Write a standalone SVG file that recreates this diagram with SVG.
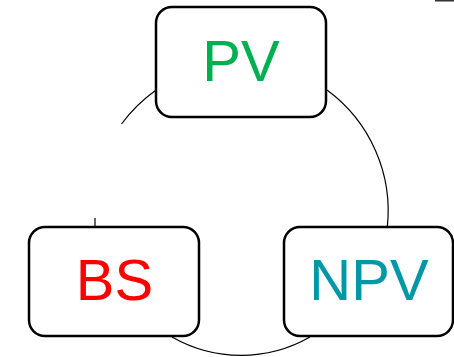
<svg xmlns="http://www.w3.org/2000/svg" width="454" height="357" viewBox="0 0 454 357">
<style>
.box{fill:#fff;stroke:#000;stroke-width:2.5}
.lbl{font-family:"Liberation Sans",Arial,sans-serif;font-size:58px;text-anchor:middle}
.con{fill:none;stroke:#000;stroke-width:1.2}
</style>
<rect width="454" height="357" fill="#fff"/>
<rect x="435" y="0" width="19" height="1.5" fill="#333"/>
<g id="connectors">
<path class="con" d="M327,90 A150,150 0 0 1 387.3,227"/>
<path class="con" d="M172,337 A139,139 0 0 0 310,337"/>
<path class="con" d="M155.5,90.5 A150,150 0 0 0 121.5,124"/>
<path class="con" d="M95,218 L95,226"/>
</g>
<g id="PV">
<rect class="box" x="156" y="7" width="170" height="110" rx="16"/>
<text class="lbl" x="241" y="81" fill="#00B050">PV</text>
</g>
<g id="BS">
<rect class="box" x="29" y="227" width="170" height="109" rx="16"/>
<text class="lbl" x="114.5" y="300" fill="#FF0000">BS</text>
</g>
<g id="NPV">
<rect class="box" x="284" y="227" width="169" height="109" rx="16"/>
<text class="lbl" x="369" y="300" fill="#0098A6">NPV</text>
</g>
</svg>
